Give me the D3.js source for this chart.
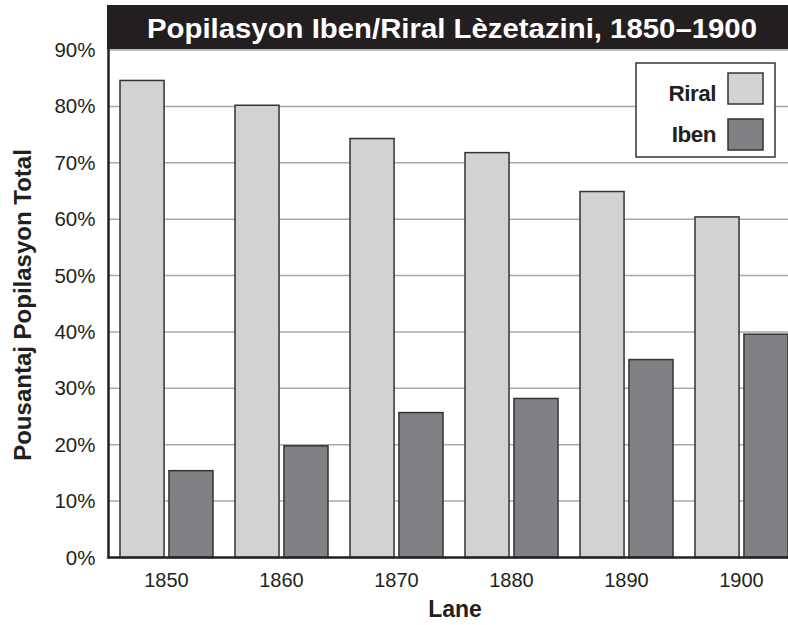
<!DOCTYPE html>
<html>
<head>
<meta charset="utf-8">
<script src="https://cdn.jsdelivr.net/npm/d3@7"></script>
<style>
  body { margin: 0; background: #fff; }
  svg { display: block; font-family: "Liberation Sans", Arial, Helvetica, sans-serif; }
</style>
</head>
<body>
<div id="chart"></div>
<script>
// data
var years = ["1850", "1860", "1870", "1880", "1890", "1900"];
var series = ["Riral", "Iben"];
var riral = [0.846, 0.802, 0.743, 0.718, 0.649, 0.604];
var iben = [0.154, 0.198, 0.257, 0.282, 0.351, 0.396];
var yTicks = [0, 0.1, 0.2, 0.3, 0.4, 0.5, 0.6, 0.7, 0.8, 0.9];
var colors = {Riral: "#d1d2d4", Iben: "#808184"};

var width = 788,
    height = 625,
    axisX = 108.5,
    plotRight = 788,
    baseY = 557.5,
    topY = 50;

var svg = d3.select("#chart").append("svg")
    .attr("width", width)
    .attr("height", height);

var x0 = d3.scaleBand().domain(years).range([109, 799]).padding(0);
var x1 = d3.scaleBand().domain(series).range([11, 104]).paddingInner(0.1);
var y = d3.scaleLinear().domain([0, 0.9]).range([baseY, topY]);

var rows = years.map(function(yr, i) {
    return {year: yr, Riral: riral[i], Iben: iben[i]};
});

// gridlines
svg.append("g").selectAll("line")
    .data(yTicks.filter(function(d) { return d > 0; }))
    .enter().append("line")
    .attr("x1", axisX).attr("x2", plotRight)
    .attr("y1", function(d) { return y(d); })
    .attr("y2", function(d) { return y(d); })
    .attr("stroke", "#a7a9ac")
    .attr("stroke-width", 1.5);

// bars
var groups = svg.append("g").selectAll("g")
    .data(rows)
    .enter().append("g")
    .attr("transform", function(d) { return "translate(" + x0(d.year) + ",0)"; });

groups.selectAll("rect")
    .data(function(d) { return series.map(function(k) { return {key: k, value: d[k]}; }); })
    .enter().append("rect")
    .attr("x", function(d) { return x1(d.key); })
    .attr("y", function(d) { return y(d.value); })
    .attr("width", x1.bandwidth())
    .attr("height", function(d) { return baseY - y(d.value); })
    .attr("fill", function(d) { return colors[d.key]; })
    .attr("stroke", "#333")
    .attr("stroke-width", 1.5);

// axis lines
svg.append("line")
    .attr("x1", axisX - 1).attr("x2", plotRight)
    .attr("y1", baseY).attr("y2", baseY)
    .attr("stroke", "#231f20").attr("stroke-width", 2.5);
svg.append("line")
    .attr("x1", axisX).attr("x2", axisX)
    .attr("y1", 48).attr("y2", baseY + 1)
    .attr("stroke", "#231f20").attr("stroke-width", 2.5);

// y tick labels
var yAxis = svg.append("g")
    .attr("transform", "translate(" + axisX + ",0)")
    .call(d3.axisLeft(y).tickValues(yTicks).tickSize(0).tickPadding(13)
        .tickFormat(d3.format(".0%")));
yAxis.select(".domain").remove();
yAxis.attr("font-size", null).attr("font-family", null);
yAxis.selectAll("text")
    .style("font-family", "'Liberation Sans', Arial, sans-serif")
    .style("font-size", "20.5px")
    .attr("fill", "#231f20");

// x tick labels
var xAxis = svg.append("g")
    .attr("transform", "translate(0," + baseY + ")")
    .call(d3.axisBottom(x0).tickSize(0).tickPadding(0));
xAxis.select(".domain").remove();
xAxis.attr("font-size", null).attr("font-family", null);
xAxis.selectAll("text")
    .style("font-family", "'Liberation Sans', Arial, sans-serif")
    .style("font-size", "20px")
    .attr("fill", "#231f20")
    .attr("dy", null)
    .attr("y", 29.5);

// title bar
svg.append("rect")
    .attr("x", 107).attr("y", 5)
    .attr("width", plotRight - 107).attr("height", 44)
    .attr("fill", "#231f20");
svg.append("text")
    .attr("x", 452).attr("y", 37.5)
    .attr("text-anchor", "middle")
    .attr("font-size", 27)
    .attr("font-weight", "bold")
    .attr("fill", "#fff")
    .attr("textLength", 610)
    .attr("lengthAdjust", "spacingAndGlyphs")
    .text("Popilasyon Iben/Riral Lèzetazini, 1850–1900");

// axis titles
svg.append("text")
    .attr("transform", "translate(31,305) rotate(-90)")
    .attr("text-anchor", "middle")
    .attr("font-size", 24)
    .attr("font-weight", "bold")
    .attr("fill", "#231f20")
    .text("Pousantaj Popilasyon Total");
svg.append("text")
    .attr("x", 455).attr("y", 617)
    .attr("text-anchor", "middle")
    .attr("font-size", 23)
    .attr("font-weight", "bold")
    .attr("fill", "#231f20")
    .text("Lane");

// legend
var legend = svg.append("g");
legend.append("rect")
    .attr("x", 636).attr("y", 63)
    .attr("width", 139).attr("height", 94)
    .attr("fill", "#fff")
    .attr("stroke", "#333")
    .attr("stroke-width", 1.5);
var items = legend.selectAll("g.item")
    .data(series)
    .enter().append("g")
    .attr("class", "item")
    .attr("transform", function(d, i) { return "translate(0," + (i * 46) + ")"; });
items.append("rect")
    .attr("x", 728).attr("y", 73)
    .attr("width", 35).attr("height", 31)
    .attr("fill", function(d) { return colors[d]; })
    .attr("stroke", "#333")
    .attr("stroke-width", 1.5);
items.append("text")
    .attr("x", 716).attr("y", function(d, i) { return i ? 95.7 : 101; })
    .attr("text-anchor", "end")
    .attr("font-size", 22.5)
    .attr("font-weight", "bold")
    .attr("letter-spacing", -0.5)
    .attr("fill", "#231f20")
    .text(function(d) { return d; });
</script>
</body>
</html>
